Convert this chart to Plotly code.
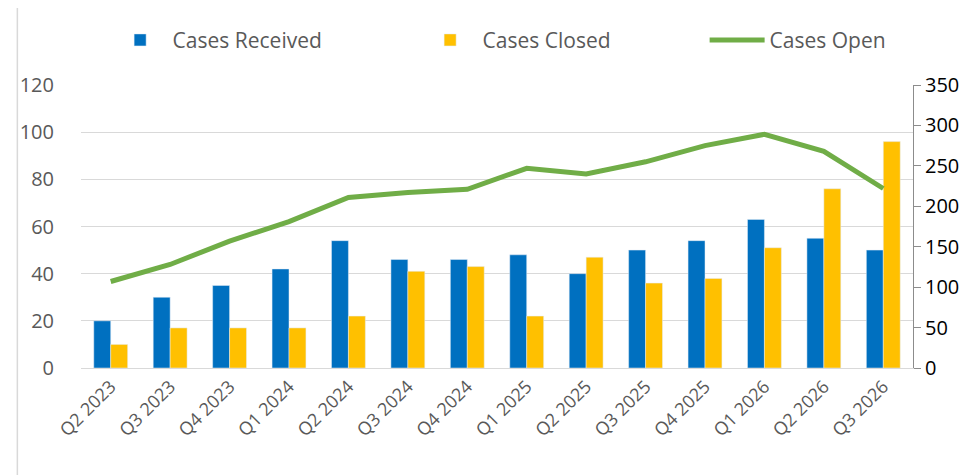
import plotly.graph_objects as go

quarters = ["Q2 2023", "Q3 2023", "Q4 2023", "Q1 2024", "Q2 2024", "Q3 2024", "Q4 2024",
            "Q1 2025", "Q2 2025", "Q3 2025", "Q4 2025", "Q1 2026", "Q2 2026", "Q3 2026"]
cases_received = [20, 30, 35, 42, 54, 46, 46, 48, 40, 50, 54, 63, 55, 50]
cases_closed = [10, 17, 17, 17, 22, 41, 43, 22, 47, 36, 38, 51, 76, 96]
cases_open = [107, 128, 157, 181, 211, 217, 221, 247, 240, 255, 275, 289, 268, 222]

FONT = "Open Sans"
GREY = "#595959"
GRID = "#D9D9D9"

fig = go.Figure()
fig.add_trace(go.Bar(x=quarters, y=cases_received, name="Cases Received",
                     marker=dict(color="#0070C0"), legendwidth=240))
fig.add_trace(go.Bar(x=quarters, y=cases_closed, name="Cases Closed",
                     marker=dict(color="#FFC000"), legendwidth=217))
fig.add_trace(go.Scatter(x=quarters, y=cases_open, name="Cases Open", yaxis="y2",
                         mode="lines", line=dict(color="#70AD47", width=5)))

fig.update_layout(
    width=967, height=475,
    margin=dict(l=68, r=62, t=76, b=115),
    paper_bgcolor="white", plot_bgcolor="white",
    font=dict(family=FONT, color=GREY, size=20),
    barmode="group", bargap=0.43, bargroupgap=0,
    showlegend=True,
    legend=dict(orientation="h", x=0.032, xanchor="left", y=1.158, yanchor="middle",
                font=dict(size=21, color=GREY), itemwidth=55,
                bgcolor="rgba(0,0,0,0)", traceorder="normal"),
    xaxis=dict(tickangle=-45, tickfont=dict(size=18, color=GREY), showgrid=False,
               showline=True, linecolor=GRID, linewidth=1, ticks=""),
    yaxis=dict(range=[0, 120], dtick=20, showgrid=True, gridcolor=GRID, gridwidth=1.3,
               showline=False, zeroline=False, tickfont=dict(size=20, color=GREY),
               ticks="outside", ticklen=22, tickcolor="rgba(0,0,0,0)"),
    yaxis2=dict(range=[0, 350], dtick=50, overlaying="y", side="right", showgrid=False,
                showline=True, linecolor="#8C8C8C", linewidth=1, zeroline=False,
                ticks="outside", ticklen=7, tickcolor="#8C8C8C",
                tickfont=dict(size=20, color="black")),
    shapes=[
        dict(type="line", xref="paper", yref="paper", x0=-0.0765, x1=-0.0765,
             y0=1.2817, y1=-0.45, line=dict(color=GRID, width=1.5)),
        dict(type="line", xref="paper", yref="paper", x0=-0.0765, x1=1.2,
             y0=1.2817, y1=1.2817, line=dict(color=GRID, width=1.5)),
    ],
)

fig.write_html("out.html")
